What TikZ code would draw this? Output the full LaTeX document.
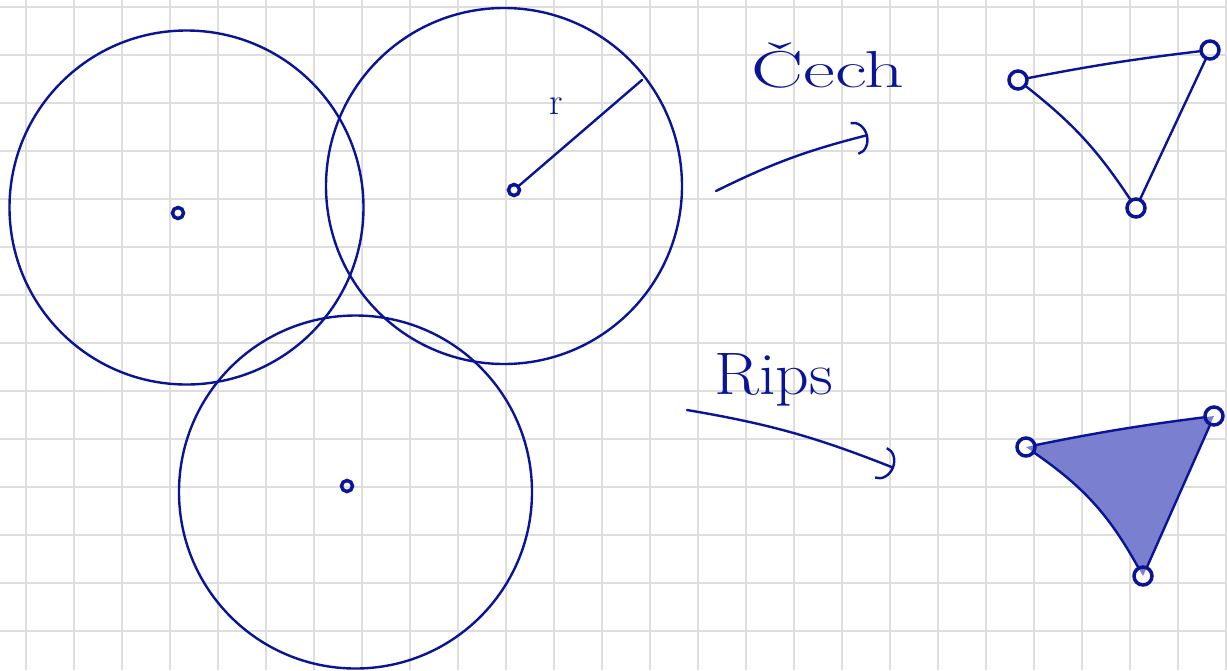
\documentclass[tikz,border=0pt]{standalone}
\usepackage{xcolor}
\usepackage{graphicx}
\usepackage{tikz}
\usetikzlibrary{arrows.meta}
\definecolor{tinta}{RGB}{10,20,150}
\definecolor{relleno}{RGB}{123,127,208}

\begin{document}
\begin{tikzpicture}[x=1pt, y=-1pt,
  rejilla/.style={black!13, line width=1.2pt},
  trazo/.style={tinta, line width=2.4pt, line cap=round},
  punto/.style={circle, draw=tinta, line width=3.5pt, inner sep=0pt, minimum size=11pt},
  vert/.style={circle, draw=tinta, line width=3.5pt, inner sep=0pt, minimum size=18pt},
  fl/.style={trazo, -{Arc Barb[length=14pt, width=34pt, line width=2.4pt]}},
  et/.style={tinta, inner sep=0pt}]
\useasboundingbox (0,0) rectangle (1227,670);
\fill[white] (0,0) rectangle (1227,670);
% rejilla del papel
\foreach \gx in {26,74,...,1226}
  \draw[rejilla] (\gx,0) -- (\gx,670);
\foreach \gy in {7,55,...,631}
  \draw[rejilla] (0,\gy) -- (1227,\gy);
% bolas de radio r
\draw[trazo] (186.5,207.5) circle[radius=177pt];
\draw[trazo] (504,186) circle[radius=178pt];
\draw[trazo] (355.5,492) circle[radius=176.5pt];
\node[punto] (p1) at (178,213) {};
\node[punto] (p2) at (514,190) {};
\node[punto] (p3) at (347,486) {};
\coordinate (borde) at (642,80);
\draw[trazo] (p2) -- (borde);
\node[et, font=\fontsize{38}{38}\selectfont] (radio) at (556,106) {r};
% flechas
\coordinate (cs) at (716,191);
\coordinate (ce) at (868,135);
\coordinate (rs) at (687,410);
\coordinate (re) at (894,468);
\draw[fl] (cs) to[bend left=6] (ce);
\draw[fl] (rs) to[bend left=6] (re);
\node[et, font=\fontsize{52}{52}\selectfont] (cech) at (828,66) {\scalebox{1.5}[1]{Čech}};
\node[et, font=\fontsize{60}{60}\selectfont] (rips) at (774,380) {\scalebox{1.1}[1]{Rips}};
% complejo de Cech
\node[vert] (a) at (1018,80) {};
\node[vert] (b) at (1210,50) {};
\node[vert] (c) at (1136,208) {};
\draw[trazo] (a) to[bend left=2] (b);
\draw[trazo] (b) -- (c);
\draw[trazo] (a) to[bend left=9] (c);
% complejo de Rips
\coordinate (dd) at (1026,447);
\coordinate (ee) at (1214,416);
\coordinate (ff) at (1143,576);
\fill[relleno] (dd) to[bend left=2] (ee) -- (ff) to[bend right=13] (dd) -- cycle;
\node[vert] (d) at (dd) {};
\node[vert] (e) at (ee) {};
\node[vert] (f) at (ff) {};
\draw[trazo] (d) to[bend left=2] (e);
\draw[trazo] (e) -- (f);
\draw[trazo] (d) to[bend left=13] (f);
\end{tikzpicture}
\end{document}
